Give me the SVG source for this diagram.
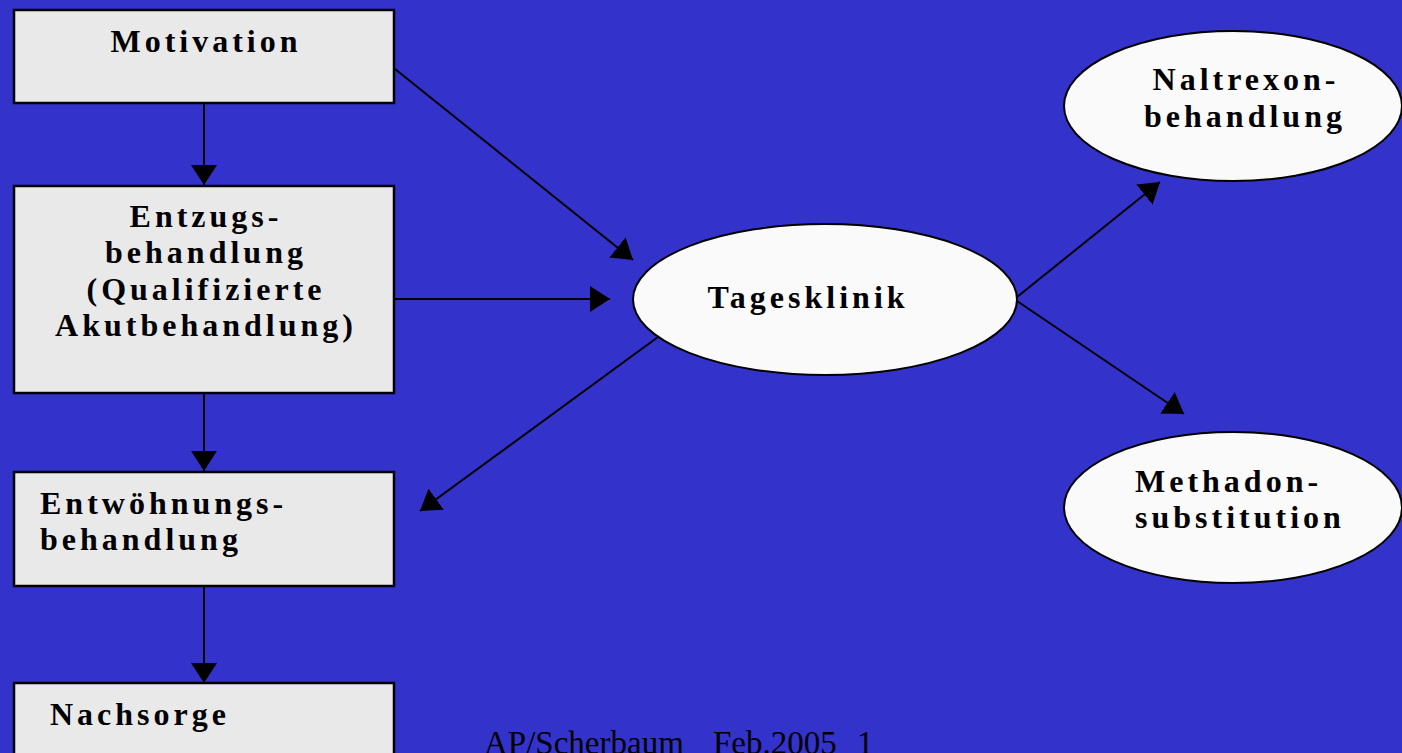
<svg xmlns="http://www.w3.org/2000/svg" width="1402" height="753" viewBox="0 0 1402 753">
<defs>
<marker id="ah" viewBox="0 0 20 26" refX="20" refY="13" markerWidth="20" markerHeight="26" markerUnits="userSpaceOnUse" orient="auto">
<path d="M0,0 L20,13 L0,26 Z" fill="#000"/>
</marker>
<style>
.box{fill:#E9E9E9;stroke:#000;stroke-width:2.5}
.ell{fill:#FAFAFA;stroke:#000;stroke-width:2}
.lbl{font-family:"Liberation Serif","Times New Roman",serif;font-weight:bold;font-size:32px;letter-spacing:4px;fill:#000}
.c{text-anchor:middle}
.con{stroke:#000;stroke-width:2;fill:none;marker-end:url(#ah)}
.foot{font-family:"Liberation Serif","Times New Roman",serif;font-size:33px;fill:#000}
</style>
</defs>
<rect width="1402" height="753" fill="#3333CC"/>
<g id="connectors">
<line class="con" x1="204" y1="104" x2="204" y2="185"/>
<line class="con" x1="204" y1="394" x2="204" y2="471"/>
<line class="con" x1="204" y1="587" x2="204" y2="683"/>
<line class="con" x1="395" y1="69" x2="633" y2="260"/>
<line class="con" x1="395" y1="299" x2="610" y2="299"/>
<line class="con" x1="658" y1="337" x2="420" y2="511"/>
<line class="con" x1="1017" y1="297" x2="1160" y2="182"/>
<line class="con" x1="1017" y1="301" x2="1184" y2="414"/>
</g>
<g id="motivation">
<rect class="box" x="14" y="10" width="380" height="93"/>
<text class="lbl c" x="206" y="52">Motivation</text>
</g>
<g id="entzug">
<rect class="box" x="14" y="186" width="380" height="207"/>
<text class="lbl c" x="206" y="227">Entzugs-</text>
<text class="lbl c" x="206" y="263">behandlung</text>
<text class="lbl c" x="206" y="300">(Qualifizierte</text>
<text class="lbl c" x="206" y="336">Akutbehandlung)</text>
</g>
<g id="entwoehnung">
<rect class="box" x="14" y="472" width="380" height="114"/>
<text class="lbl" x="40" y="514">Entwöhnungs-</text>
<text class="lbl" x="40" y="550">behandlung</text>
</g>
<g id="nachsorge">
<rect class="box" x="14" y="683" width="380" height="90"/>
<text class="lbl" x="50" y="725">Nachsorge</text>
</g>
<g id="tagesklinik">
<ellipse class="ell" cx="825" cy="299.5" rx="192" ry="75.5"/>
<text class="lbl c" x="808" y="308">Tagesklinik</text>
</g>
<g id="naltrexon">
<ellipse class="ell" cx="1233" cy="106" rx="169" ry="75"/>
<text class="lbl c" x="1246" y="90">Naltrexon-</text>
<text class="lbl c" x="1245" y="127">behandlung</text>
</g>
<g id="methadon">
<ellipse class="ell" cx="1233" cy="507.5" rx="169" ry="75.5"/>
<text class="lbl" x="1135" y="492">Methadon-</text>
<text class="lbl" x="1135" y="528">substitution</text>
</g>
<text class="foot" y="754"><tspan x="484">AP/Scherbaum</tspan><tspan x="713">Feb.2005</tspan><tspan x="857">1</tspan></text>
</svg>
